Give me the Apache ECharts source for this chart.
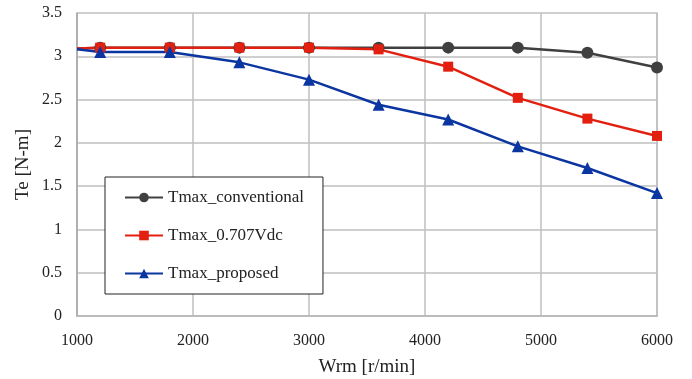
<!DOCTYPE html>
<html><head><meta charset="utf-8">
<script src="https://cdn.jsdelivr.net/npm/echarts@6/dist/echarts.min.js"></script>
<style>html,body{margin:0;padding:0;background:#fff}#c{width:692px;height:379px}</style>
</head><body><div id="c"></div>
<script>
const speeds = [1000, 1200, 1800, 2400, 3000, 3600, 4200, 4800, 5400, 6000];
const conventional = [3.09, 3.10, 3.10, 3.10, 3.10, 3.10, 3.10, 3.10, 3.04, 2.87];
const vdc0707 = [3.09, 3.10, 3.10, 3.10, 3.10, 3.08, 2.88, 2.52, 2.28, 2.08];
const proposed = [3.08, 3.05, 3.05, 2.93, 2.73, 2.44, 2.27, 1.96, 1.71, 1.42];
const seriesNames = ['Tmax_conventional', 'Tmax_0.707Vdc', 'Tmax_proposed'];
const font = 'Liberation Serif, Times New Roman, serif';

function mk(vals){
  return speeds.map((x,i)=> i===0 ? {value:[x, vals[i]], symbol:'none'} : [x, vals[i]]);
}
function ser(name, vals, color, symbol, size){
  return {name, type:'line', data: mk(vals), symbol, symbolSize:size,
    lineStyle:{color, width:2.5}, itemStyle:{color}, color, z:3};
}
const chart = echarts.init(document.getElementById('c'));
chart.setOption({
  animation:false,
  grid:{left:77, right:35, top:13, bottom:63, outerBoundsMode:'none', containLabel:false},
  xAxis:[{type:'value', min:1000, max:6000, interval:1000,
    name:'Wrm [r/min]', nameLocation:'middle', nameGap:42,
    nameTextStyle:{fontFamily:font, fontSize:19, color:'#222'},
    axisLine:{show:true, lineStyle:{color:'#a6a6a6', width:1.5}},
    axisTick:{show:false},
    axisLabel:{fontFamily:font, fontSize:16, color:'#222', margin:17, formatter:v=>String(v)},
    splitLine:{show:true, lineStyle:{color:'#bfbfbf', width:1.5}}},
    {type:'value', position:'top', min:1000, max:6000, interval:1000,
    axisLine:{show:true, lineStyle:{color:'#bfbfbf', width:1.5}}, axisTick:{show:false}, axisLabel:{show:false}, splitLine:{show:false}}],
  yAxis:[{type:'value', min:0, max:3.5, interval:0.5,
    name:'Te [N-m]', nameLocation:'middle', nameGap:44, nameMoveOverlap:false,
    nameTextStyle:{fontFamily:font, fontSize:19, color:'#222'},
    axisLine:{show:true, lineStyle:{color:'#a6a6a6', width:1.5}},
    axisTick:{show:false},
    axisLabel:{fontFamily:font, fontSize:16, color:'#222', margin:15},
    splitLine:{show:true, lineStyle:{color:'#bfbfbf', width:1.5}}},
    {type:'value', position:'right', min:0, max:3.5, interval:0.5,
    axisLine:{show:true, lineStyle:{color:'#bfbfbf', width:1.5}}, axisTick:{show:false}, axisLabel:{show:false}, splitLine:{show:false}}],
  legend:{orient:'vertical', left:105, top:177, data:seriesNames,
    backgroundColor:'#fff', borderColor:'#222', borderWidth:1,
    padding:[12,19], itemGap:21, itemWidth:38, itemHeight:12,
    textStyle:{fontFamily:font, fontSize:17, color:'#222'}},
  series:[
    ser(seriesNames[0], conventional, '#404040', 'circle', 12),
    ser(seriesNames[1], vdc0707, '#e3200f', 'rect', 10),
    ser(seriesNames[2], proposed, '#0b35a0', 'triangle', 12)
  ]
});
</script></body></html>
